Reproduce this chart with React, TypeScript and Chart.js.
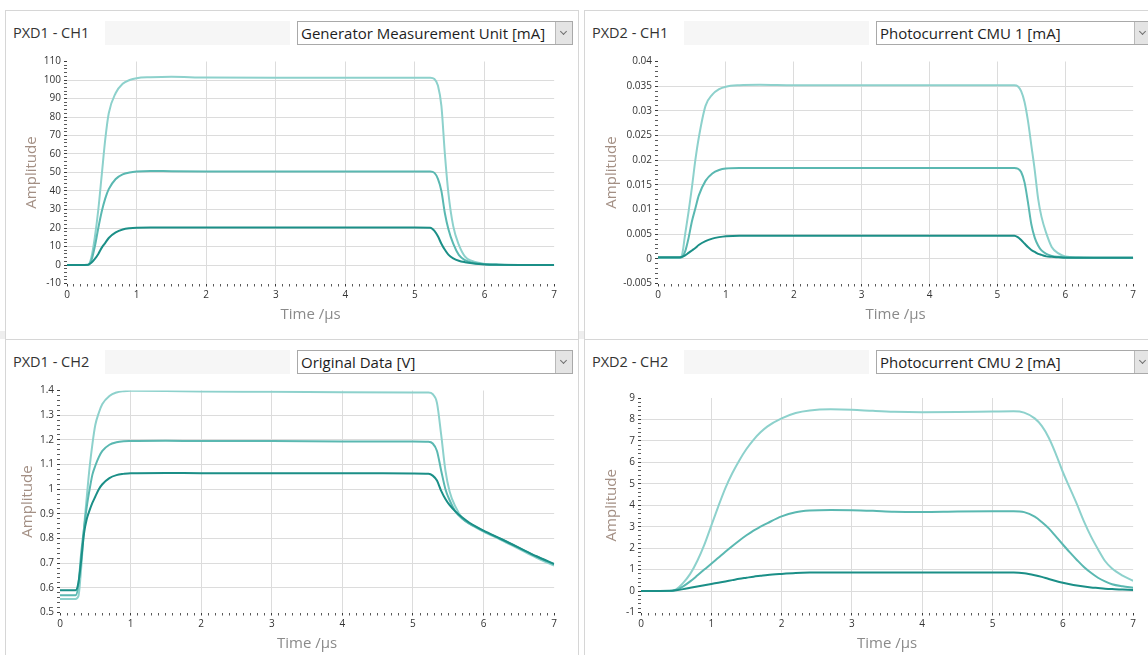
import React, { useEffect, useRef } from 'react';
import Chart from 'chart.js/auto';

const FONT = "'Segoe UI', 'Open Sans', sans-serif";
const LIGHT = '#8dd1cc';
const MID = '#5ab8b1';
const DARK = '#1b8f87';
const GRID = '#dcdcdc';

const TIME_TICKS = [0, 1, 2, 3, 4, 5, 6, 7];

// PXD1 - CH1, Generator Measurement Unit [mA]
const P1C1_TIME = [0, 0.3, 0.35, 0.4, 0.45, 0.5, 0.55, 0.6, 0.7, 0.8, 0.9, 1.0, 1.2, 1.5, 2, 3, 4, 5, 5.22, 5.28, 5.33, 5.38, 5.43, 5.48, 5.55, 5.63, 5.72, 5.82, 5.92, 6.0, 6.2, 6.5, 7];
const P1C1_HIGH = [0, 0, 4, 15, 30, 49, 68, 82, 93, 98, 100, 101, 101.5, 101.8, 101.3, 101.2, 101.2, 101.2, 101.2, 100.5, 97, 86, 60, 39, 21, 11, 4.5, 2.2, 1.2, 0.6, 0.2, 0, 0];
const P1C1_MID = [0, 0, 2.5, 10, 20, 29, 36, 41, 46.5, 49, 50, 50.5, 50.8, 50.7, 50.6, 50.5, 50.5, 50.5, 50.5, 49.8, 46.5, 40, 28, 19.5, 11.5, 5.5, 2.6, 1.4, 0.8, 0.5, 0.2, 0, 0];
const P1C1_LOW = [0, 0.2, 1.2, 3.3, 6, 9.4, 12, 14.6, 17.6, 19.2, 19.9, 20.2, 20.3, 20.3, 20.3, 20.3, 20.3, 20.3, 20.2, 18.5, 15.5, 11.5, 8.2, 5.6, 3.6, 2.3, 1.5, 0.9, 0.5, 0.3, 0.1, 0, 0];
const P1C1_TICKS = [-10, 0, 10, 20, 30, 40, 50, 60, 70, 80, 90, 100, 110];

// PXD2 - CH1, Photocurrent CMU 1 [mA]
const P2C1_TIME = [0, 0.3, 0.35, 0.4, 0.45, 0.5, 0.55, 0.6, 0.7, 0.8, 0.9, 1.0, 1.2, 1.5, 2, 3, 4, 5, 5.25, 5.3, 5.35, 5.4, 5.45, 5.5, 5.55, 5.6, 5.65, 5.72, 5.8, 5.9, 6.0, 6.2, 6.5, 7];
const P2C1_HIGH = [0.0002, 0.0002, 0.0006, 0.005, 0.0095, 0.0145, 0.02, 0.0245, 0.031, 0.0333, 0.0344, 0.0349, 0.0352, 0.0353, 0.0352, 0.0352, 0.0352, 0.0352, 0.0352, 0.035, 0.034, 0.0318, 0.028, 0.023, 0.018, 0.0122, 0.0085, 0.0052, 0.0024, 0.0011, 0.0005, 0.0003, 0.0002, 0.0002];
const P2C1_MID = [0.0002, 0.0002, 0.0003, 0.0015, 0.0042, 0.0076, 0.0102, 0.0128, 0.0158, 0.0173, 0.018, 0.0183, 0.0184, 0.0184, 0.0184, 0.0184, 0.0184, 0.0184, 0.0184, 0.0183, 0.0176, 0.0155, 0.0115, 0.007, 0.0043, 0.0027, 0.0017, 0.001, 0.0006, 0.0004, 0.0003, 0.0002, 0.0002, 0.0002];
const P2C1_LOW = [0.0003, 0.0003, 0.0004, 0.0007, 0.0012, 0.0017, 0.0022, 0.0028, 0.0036, 0.0041, 0.0044, 0.0046, 0.0047, 0.0047, 0.0047, 0.0047, 0.0047, 0.0047, 0.0047, 0.0044, 0.0038, 0.0031, 0.0024, 0.0018, 0.0014, 0.001, 0.0008, 0.0005, 0.0004, 0.0003, 0.0002, 0.0002, 0.0002, 0.0002];
const P2C1_TICKS = [-0.005, 0, 0.005, 0.01, 0.015, 0.02, 0.025, 0.03, 0.035, 0.04];

// PXD1 - CH2, Original Data [V]
const P1C2_TIME = [0, 0.22, 0.26, 0.3, 0.34, 0.38, 0.42, 0.46, 0.5, 0.55, 0.6, 0.7, 0.8, 0.9, 1.0, 1.5, 2, 3, 4, 5, 5.22, 5.28, 5.34, 5.4, 5.46, 5.52, 5.6, 5.7, 5.8, 5.9, 6.0, 6.25, 6.5, 6.75, 7];
const P1C2_HIGH = [0.555, 0.555, 0.565, 0.68, 0.84, 0.97, 1.09, 1.185, 1.26, 1.31, 1.345, 1.378, 1.392, 1.397, 1.399, 1.398, 1.396, 1.395, 1.393, 1.392, 1.392, 1.385, 1.35, 1.22, 1.075, 0.99, 0.93, 0.882, 0.86, 0.843, 0.828, 0.794, 0.758, 0.722, 0.69];
const P1C2_MID = [0.57, 0.57, 0.61, 0.74, 0.84, 0.93, 1.0, 1.06, 1.095, 1.13, 1.155, 1.18, 1.19, 1.194, 1.195, 1.196, 1.195, 1.195, 1.193, 1.193, 1.192, 1.185, 1.155, 1.075, 1.0, 0.955, 0.91, 0.88, 0.86, 0.845, 0.83, 0.797, 0.762, 0.727, 0.695];
const P1C2_LOW = [0.59, 0.59, 0.62, 0.71, 0.82, 0.88, 0.915, 0.945, 0.97, 1.0, 1.02, 1.045, 1.057, 1.062, 1.065, 1.066, 1.065, 1.065, 1.065, 1.064, 1.063, 1.055, 1.035, 0.993, 0.96, 0.935, 0.91, 0.885, 0.864, 0.847, 0.832, 0.798, 0.763, 0.728, 0.697];
const P1C2_TICKS = [0.5, 0.6, 0.7, 0.8, 0.9, 1, 1.1, 1.2, 1.3, 1.4];

// PXD2 - CH2, Photocurrent CMU 2 [mA]
const P2C2_TIME = [0, 0.4, 0.5, 0.6, 0.7, 0.8, 0.9, 1.0, 1.1, 1.2, 1.3, 1.4, 1.5, 1.6, 1.7, 1.8, 2.0, 2.2, 2.4, 2.7, 3.0, 3.3, 3.6, 4.0, 4.5, 5.0, 5.3, 5.45, 5.6, 5.7, 5.8, 5.9, 6.0, 6.1, 6.2, 6.3, 6.4, 6.5, 6.6, 6.7, 6.85, 7.0];
const P2C2_HIGH = [0, 0, 0.08, 0.38, 0.8, 1.4, 2.15, 3.05, 3.95, 4.8, 5.5, 6.1, 6.62, 7.05, 7.4, 7.68, 8.05, 8.3, 8.42, 8.47, 8.45, 8.4, 8.36, 8.34, 8.35, 8.37, 8.38, 8.32, 8.05, 7.7, 7.15, 6.4, 5.55, 4.8, 4.05, 3.25, 2.55, 1.95, 1.4, 1.05, 0.72, 0.48];
const P2C2_MID = [0, 0, 0.05, 0.22, 0.45, 0.72, 1.0, 1.27, 1.55, 1.83, 2.1, 2.36, 2.6, 2.82, 3.0, 3.17, 3.48, 3.67, 3.75, 3.78, 3.77, 3.74, 3.7, 3.69, 3.71, 3.72, 3.72, 3.68, 3.47, 3.22, 2.92, 2.55, 2.17, 1.8, 1.45, 1.12, 0.85, 0.62, 0.45, 0.32, 0.22, 0.15];
const P2C2_LOW = [0, 0.01, 0.04, 0.09, 0.15, 0.21, 0.27, 0.33, 0.39, 0.45, 0.51, 0.57, 0.62, 0.67, 0.71, 0.75, 0.8, 0.84, 0.86, 0.87, 0.87, 0.86, 0.86, 0.86, 0.86, 0.86, 0.86, 0.83, 0.74, 0.66, 0.56, 0.47, 0.39, 0.32, 0.26, 0.21, 0.17, 0.14, 0.11, 0.09, 0.07, 0.05];
const P2C2_TICKS = [-1, 0, 1, 2, 3, 4, 5, 6, 7, 8, 9];

function withMinor(major: number[], div: number) {
  const out: { value: number }[] = [];
  for (let i = 0; i < major.length - 1; i++) {
    for (let k = 0; k < div; k++) {
      out.push({ value: major[i] + ((major[i + 1] - major[i]) * k) / div });
    }
  }
  out.push({ value: major[major.length - 1] });
  return out;
}

function axis(major: number[], div: number) {
  const last = (major.length - 1) * div;
  return {
    min: major[0],
    max: major[major.length - 1],
    afterBuildTicks: (s: any) => {
      s.ticks = withMinor(major, div);
    },
    border: { display: false },
    grid: {
      color: (c: any) => (c.index % div === 0 && c.index > 0 && c.index < last ? GRID : 'rgba(0,0,0,0)'),
      tickColor: (c: any) => (c.index % div === 0 ? '#3a3a3a' : '#5a5a5a'),
      tickLength: 3,
      lineWidth: 1
    },
    ticks: {
      autoSkip: false,
      maxRotation: 0,
      minRotation: 0,
      padding: 3,
      color: '#333333',
      font: { family: FONT, size: 10 },
      callback: (_v: any, i: number) => (i % div === 0 ? String(major[i / div]) : '')
    }
  };
}

type PanelProps = {
  left: number;
  top: number;
  name: string;
  source: string;
  time: number[];
  high: number[];
  mid: number[];
  low: number[];
  yTicks: number[];
  axisWidth: number;
  titlePad: number;
  topPad: number;
};

function Panel(p: PanelProps) {
  const ref = useRef<HTMLCanvasElement | null>(null);

  useEffect(() => {
    if (!ref.current) return;
    const pts = (v: number[]) => p.time.map((t, i) => ({ x: t, y: v[i] }));
    const line = (v: number[], color: string) => ({
      data: pts(v),
      borderColor: color,
      borderWidth: 2,
      pointRadius: 0,
      fill: false,
      cubicInterpolationMode: 'monotone' as const
    });
    const xAxis: any = axis(TIME_TICKS, 10);
    xAxis.type = 'linear';
    xAxis.afterFit = (s: any) => {
      s.height = 41.5;
    };
    xAxis.title = {
      display: true,
      text: 'Time /µs',
      color: '#8a8a8a',
      font: { family: FONT, size: 15 },
      padding: { top: 0, bottom: 1 }
    };
    const yAxis: any = axis(p.yTicks, 5);
    yAxis.type = 'linear';
    yAxis.afterFit = (s: any) => {
      s.width = p.axisWidth;
    };
    yAxis.title = {
      display: true,
      text: 'Amplitude',
      color: '#a38f84',
      font: { family: FONT, size: 15 },
      padding: { top: p.titlePad, bottom: 0 }
    };

    const chart = new Chart(ref.current, {
      type: 'line',
      data: {
        datasets: [line(p.low, DARK), line(p.mid, MID), line(p.high, LIGHT)]
      },
      options: {
        animation: false,
        responsive: true,
        maintainAspectRatio: false,
        events: [],
        layout: { padding: { top: p.topPad, right: 5, left: 0, bottom: 0 } },
        plugins: { legend: { display: false }, tooltip: { enabled: false } },
        scales: { x: xAxis, y: yAxis }
      }
    });
    return () => chart.destroy();
  }, []);

  return (
    <div
      style={{
        position: 'absolute',
        left: p.left,
        top: p.top,
        width: 574,
        height: 330,
        border: '1px solid #d6d6d6',
        background: '#fff',
        boxSizing: 'border-box',
        fontFamily: FONT
      }}
    >
      <div style={{ position: 'absolute', left: 7, top: 11, fontSize: 14.5, color: '#333', lineHeight: '22px' }}>{p.name}</div>
      <div style={{ position: 'absolute', left: 99, top: 10, width: 185, height: 24, background: '#f6f6f6' }} />
      <div
        style={{
          position: 'absolute',
          left: 291,
          top: 10,
          width: 276,
          height: 24,
          border: '1px solid #a9a9a9',
          boxSizing: 'border-box',
          background: '#fff'
        }}
      >
        <div style={{ position: 'absolute', left: 3, top: 0, fontSize: 15, color: '#1e1e1e', lineHeight: '22px', whiteSpace: 'nowrap' }}>
          {p.source}
        </div>
        <div
          style={{
            position: 'absolute',
            right: 0,
            top: 0,
            width: 16,
            height: 22,
            background: '#e4e4e4',
            borderLeft: '1px solid #b9b9b9'
          }}
        >
          <div
            style={{
              position: 'absolute',
              left: 5,
              top: 7,
              width: 4,
              height: 4,
              borderRight: '1px solid #707070',
              borderBottom: '1px solid #707070',
              transform: 'rotate(45deg)'
            }}
          />
        </div>
      </div>
      <div style={{ position: 'absolute', left: 9, top: 39, width: 545, height: 275 }}>
        <canvas ref={ref} />
      </div>
    </div>
  );
}

export default function App() {
  return (
    <div style={{ position: 'fixed', left: 0, top: 0, width: 1148, height: 655, background: '#fff', overflow: 'hidden' }}>
      <div style={{ position: 'absolute', left: 0, top: 331, width: 1148, height: 8, background: '#eeeeee' }} />
      <Panel
        left={5}
        top={10}
        name="PXD1 - CH1"
        source="Generator Measurement Unit [mA]"
        time={P1C1_TIME}
        high={P1C1_HIGH}
        mid={P1C1_MID}
        low={P1C1_LOW}
        yTicks={P1C1_TICKS}
        axisWidth={52}
        titlePad={8}
        topPad={11.5}
      />
      <Panel
        left={584}
        top={10}
        name="PXD2 - CH1"
        source="Photocurrent CMU 1 [mA]"
        time={P2C1_TIME}
        high={P2C1_HIGH}
        mid={P2C1_MID}
        low={P2C1_LOW}
        yTicks={P2C1_TICKS}
        axisWidth={64}
        titlePad={9}
        topPad={11.5}
      />
      <Panel
        left={5}
        top={339}
        name="PXD1 - CH2"
        source="Original Data [V]"
        time={P1C2_TIME}
        high={P1C2_HIGH}
        mid={P1C2_MID}
        low={P1C2_LOW}
        yTicks={P1C2_TICKS}
        axisWidth={45}
        titlePad={4}
        topPad={11.5}
      />
      <Panel
        left={584}
        top={339}
        name="PXD2 - CH2"
        source="Photocurrent CMU 2 [mA]"
        time={P2C2_TIME}
        high={P2C2_HIGH}
        mid={P2C2_MID}
        low={P2C2_LOW}
        yTicks={P2C2_TICKS}
        axisWidth={47}
        titlePad={9}
        topPad={19}
      />
    </div>
  );
}
